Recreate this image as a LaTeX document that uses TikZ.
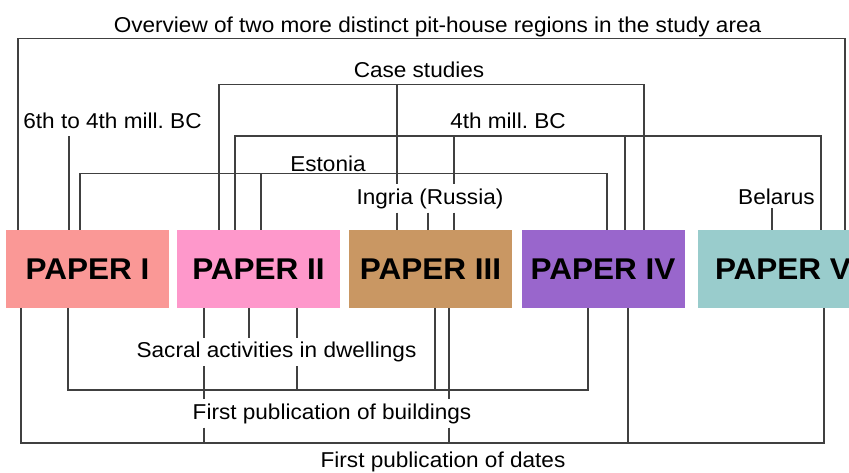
\documentclass[tikz,border=0pt]{standalone}
\usepackage{fontspec}
\setmainfont{Liberation Sans}[FakeStretch=1.05]
\definecolor{cI}{HTML}{FA9896}
\definecolor{cII}{HTML}{FE98CB}
\definecolor{cIII}{HTML}{C99763}
\definecolor{cIV}{HTML}{9966CC}
\definecolor{cV}{HTML}{99CCCC}
\definecolor{lineC}{HTML}{404040}
\frenchspacing
\begin{document}
\begin{tikzpicture}[x=1pt,y=-1pt,
  paperbox/.style={minimum width=163pt,minimum height=78pt,inner sep=0pt,
    font=\bfseries\fontsize{30}{32}\selectfont},
  lbl/.style={font=\fontsize{21.5}{24}\selectfont,inner sep=4pt,anchor=base},
  conn/.style={draw=lineC,line width=1.2pt}]
\useasboundingbox (0,0) rectangle (849,472);
\fill[white] (0,0) rectangle (849,472);
\clip (0,0) rectangle (849,472);
% boxes
\node[paperbox,fill=cI]   (p1) at (87.5,269)  {PAPER I};
\node[paperbox,fill=cII]  (p2) at (258.5,269) {PAPER II};
\node[paperbox,fill=cIII] (p3) at (430.5,269) {PAPER III};
\node[paperbox,fill=cIV]  (p4) at (603,269)   {PAPER IV};
\node[paperbox,fill=cV,minimum width=170pt] (p5) at (783,269) {PAPER V};
% labels
\node[lbl] (over)    at (437.5,32.3) {Overview of two more distinct pit-house regions in the study area};
\node[lbl] (case)    at (419,77)     {Case studies};
\node[lbl] (sixth)   at (112.5,128)  {6th to 4th mill. BC};
\node[lbl] (fourth)  at (508,128)    {4th mill. BC};
\node[lbl] (estonia) at (328,171)    {Estonia};
\node[lbl] (ingria)  at (430,204)    {Ingria (Russia)};
\node[lbl] (belarus) at (776.5,204)  {Belarus};
\node[lbl] (sacral)  at (276.5,357.5) {Sacral activities in dwellings};
\node[lbl] (build)   at (332,419)    {First publication of buildings};
\node[lbl] (dates)   at (443,467.5)  {First publication of dates};
% top connectors
\draw[conn] (p1.north -| 18,0) |- (845,38.7) -- (p5.north -| 845,0);
\draw[conn] (p2.north -| 219,0) |- (644,84.5) -- (p4.north -| 644,0);
\draw[conn] (397,84.5) -- (ingria.north -| 397,0);
\draw[conn] (ingria.south -| 397,0) -- (p3.north -| 397,0);
\draw[conn] (69,136) -- (p1.north -| 69,0);
\draw[conn] (p2.north -| 235,0) |- (821,136) -- (p5.north -| 821,0);
\draw[conn] (454,136) -- (ingria.north -| 454,0);
\draw[conn] (ingria.south -| 454,0) -- (p3.north -| 454,0);
\draw[conn] (625,136) -- (p4.north -| 625,0);
\draw[conn] (p1.north -| 80,0) |- (607,173.7) -- (p4.north -| 607,0);
\draw[conn] (261,173.7) -- (p2.north -| 261,0);
\draw[conn] (ingria.south -| 428,0) -- (p3.north -| 428,0);
\draw[conn] (belarus.south -| 772,0) -- (p5.north -| 772,0);
% bottom connectors
\draw[conn] (p1.south -| 68,0) |- (588,390) -- (p4.south -| 588,0);
\draw[conn] (p2.south -| 297,0) -- (sacral.north -| 297,0);
\draw[conn] (sacral.south -| 297,0) -- (297,390);
\draw[conn] (p3.south -| 435,0) -- (435,390);
\draw[conn] (p2.south -| 249,0) -- (sacral.north -| 249,0);
\draw[conn] (p2.south -| 204,0) -- (sacral.north -| 204,0);
\draw[conn] (sacral.south -| 204,0) -- (build.north -| 204,0);
\draw[conn] (build.south -| 204,0) -- (204,443);
\draw[conn] (p3.south -| 449,0) -- (build.north -| 449,0);
\draw[conn] (build.south -| 449,0) -- (449,443);
\draw[conn] (p1.south -| 21,0) |- (824,443) -- (p5.south -| 824,0);
\draw[conn] (p4.south -| 628,0) -- (628,443);
\end{tikzpicture}
\end{document}
